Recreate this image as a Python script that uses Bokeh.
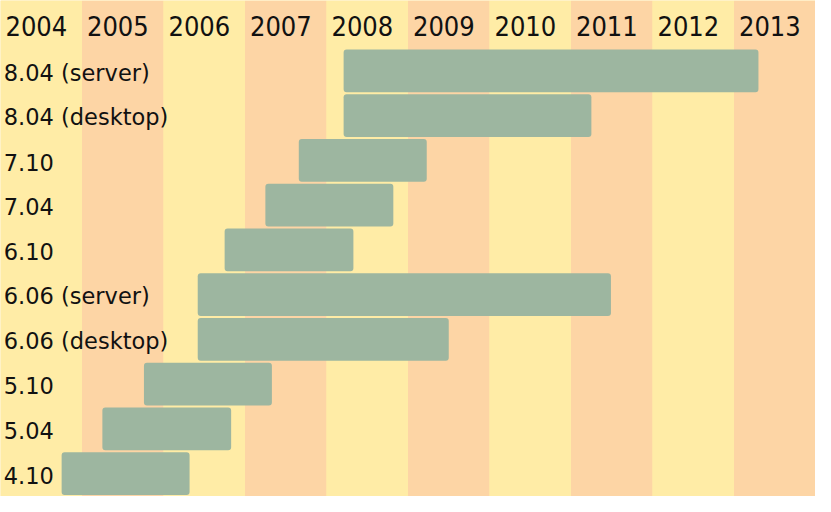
from bokeh.plotting import figure
from bokeh.models import Range1d, ColumnDataSource
from bokeh.core.properties import value
from bokeh.embed import file_html
from bokeh.resources import INLINE

# ---- data ----
years = [2004, 2005, 2006, 2007, 2008, 2009, 2010, 2011, 2012, 2013]
year_labels = [str(y) for y in years]
releases = ["8.04 (server)", "8.04 (desktop)", "7.10", "7.04", "6.10",
            "6.06 (server)", "6.06 (desktop)", "5.10", "5.04", "4.10"]
support_start = [2008.21, 2008.21, 2007.66, 2007.25, 2006.75,
                 2006.42, 2006.42, 2005.76, 2005.25, 2004.75]
support_end = [2013.30, 2011.25, 2009.23, 2008.82, 2008.33,
               2011.49, 2009.50, 2007.33, 2006.83, 2006.32]

# ---- style ----
YELLOW = "#ffeca6"
ORANGE = "#fdd5a5"
BAR = "#9db6a0"
TOP = -1.093
BOTTOM = 9.99

p = figure(width=815, height=496, output_backend="svg", toolbar_location=None,
           x_range=Range1d(2004, 2014), y_range=Range1d(BOTTOM, TOP),
           min_border=0, background_fill_color=YELLOW, border_fill_color=YELLOW)
p.axis.visible = False
p.grid.visible = False
p.outline_line_color = None

col_src = ColumnDataSource(dict(
    left=years, right=[y + 1 for y in years],
    color=[YELLOW if i % 2 == 0 else ORANGE for i in range(len(years))]))
p.quad(left="left", right="right", top=TOP, bottom=BOTTOM + 1,
       fill_color="color", line_color=None, source=col_src)

rows = list(range(len(releases)))
bar_src = ColumnDataSource(dict(
    y=[r + 0.48 for r in rows], left=support_start, right=support_end, name=releases))
p.hbar(y="y", left="left", right="right", height=0.955, fill_color=BAR,
       line_color=None, border_radius=3, source=bar_src)

lab_src = ColumnDataSource(dict(x=[2004.04] * len(releases),
                                y=[r + 0.52 for r in rows], t=releases))
p.text(x="x", y="y", text="t", source=lab_src, text_font=value("DejaVu Sans"),
       text_font_size="22.5px", text_align="left", text_baseline="middle",
       text_color="#111111")

yr_src = ColumnDataSource(dict(x=[y + 0.44 for y in years],
                               y=[-0.53] * len(years), t=year_labels))
p.text(x="x", y="y", text="t", source=yr_src,
       text_font=value("DejaVu Sans Condensed"),
       text_font_size="27px", text_align="center", text_baseline="middle",
       text_color="#111111")

open("out.html", "w").write(file_html(p, INLINE))
